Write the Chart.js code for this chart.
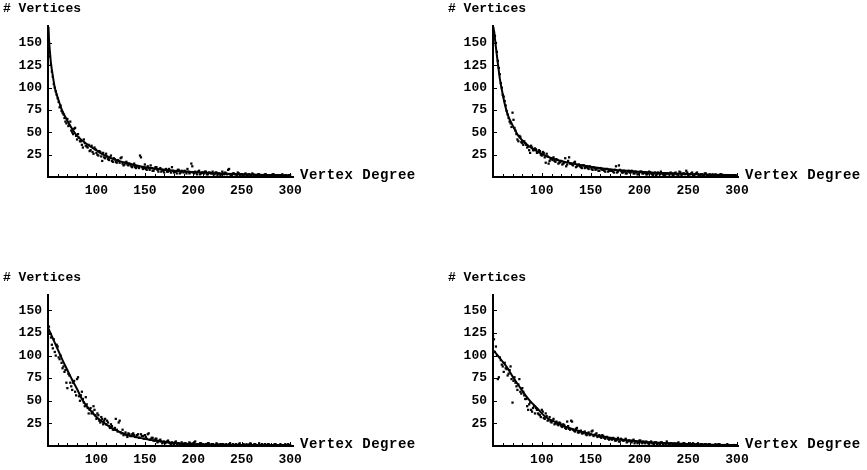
<!DOCTYPE html>
<html>
<head>
<meta charset="utf-8">
<style>
  html, body { margin: 0; padding: 0; background: #fff; }
  #wrap { position: relative; width: 867px; height: 470px; overflow: hidden; }
  canvas { position: absolute; }
</style>
</head>
<body>
<div id="wrap">
  <canvas id="c1" width="433" height="210" style="left:0px;top:0px"></canvas>
  <canvas id="c2" width="422" height="210" style="left:445px;top:0px"></canvas>
  <canvas id="c3" width="433" height="201" style="left:0px;top:269px"></canvas>
  <canvas id="c4" width="422" height="201" style="left:445px;top:269px"></canvas>
</div>
<script src="https://cdn.jsdelivr.net/npm/chart.js@4.4.3/dist/chart.umd.min.js"></script>
<script>
// vertex degree (x): even and odd degrees
const degrees = [50,52,54,56,58,60,62,64,66,68, 70,72,74,76,78,80,82,84,86,88,
  90,92,94,96,98,100,102,104,106,108, 110,112,114,116,118,120,122,124,126,128,
  130,132,134,136,138,140,142,144,146,148, 150,152,154,156,158,160,162,164,166,168,
  170,172,174,176,178,180,182,184,186,188, 190,192,194,196,198,200,202,204,206,208,
  210,212,214,216,218,220,222,224,226,228, 230,232,234,236,238,240,242,244,246,248,
  250,252,254,256,258,260,262,264,266,268, 270,272,274,276,278,280,282,284,286,288,
  290,292,294,296,298,300];
const oddDegrees = [51,53,55,57,59,61,63,65,67,69, 71,73,75,77,79,81,83,85,87,89,
  91,93,95,97,99,101,103,105,107,109, 111,113,115,117,119,121,123,125,127,129,
  131,133,135,137,139,141,143,145,147,149, 151,153,155,157,159,161,163,165,167,169,
  171,173,175,177,179,181,183,185,187,189, 191,193,195,197,199,201,203,205,207,209,
  211,213,215,217,219,221,223,225,227,229, 231,233,235,237,239,241,243,245,247,249,
  251,253,255,257,259,261,263,265,267,269, 271,273,275,277,279,281,283,285,287,289,
  291,293,295,297,299];

// number of vertices with that degree, per panel (even / odd degrees)
const countsA = [160,135,118,104,96,88,78,74,70,62, 65,58,52,48,55,42,44,40,33,38,
  34,36,30,28,33,27,24,28,18,22, 26,20,22,18,21,17,19,16,22,13,
  16,14,15,12,13,11,12,10,22,9, 14,8,10,13,7,9,11,6,10,8,
  5,9,6,7,11,5,6,8,4,7, 5,6,9,4,15,5,6,3,7,4,
  5,6,3,5,4,6,3,5,4,2, 6,3,4,8,3,2,4,3,5,2,
  3,2,4,1,3,2,3,1,2,3, 2,1,3,2,1,2,3,1,2,2,
  1,3,1,2,1,2];
const countsAOdd = [150,126,112,100,92,84,80,72,66,60, 57,62,50,54,46,48,40,36,42,35,
  33,29,35,26,31,25,29,23,27,21, 23,19,24,17,20,16,18,21,15,14,
  17,13,14,11,15,10,12,24,11,10, 9,12,8,10,7,11,8,9,6,7,
  8,6,9,5,7,6,4,8,5,6, 7,4,6,5,12,4,5,6,3,5,
  4,6,3,5,4,3,5,2,4,3, 4,5,3,9,2,4,3,2,4,3,
  2,3,1,3,2,4,1,2,3,2, 1,2,3,1,2,1,3,2,1,2,
  2,1,2,1,2];
const countsB = [168,158,140,122,105,92,85,74,66,60, 72,55,48,40,45,38,40,36,34,27,
  33,30,31,28,29,24,27,16,23,18, 21,22,17,19,16,18,15,21,14,22,
  15,13,17,12,14,11,13,10,12,9, 11,8,10,9,7,10,8,7,9,6,
  8,7,5,12,6,8,5,7,4,6, 5,7,4,6,3,5,6,4,5,3,
  6,4,2,5,3,4,6,3,2,4, 3,5,2,4,3,2,5,3,4,7,
  2,3,5,2,4,3,1,3,2,4, 1,3,2,1,3,2,1,3,2,1,
  2,1,2,1,2,1];
const countsBOdd = [162,150,130,115,100,90,80,70,62,56, 64,52,42,46,39,36,38,33,30,35,
  30,32,27,30,25,28,22,26,15,20, 19,18,20,15,17,14,16,12,18,15,
  14,16,11,13,12,10,13,11,10,12, 9,11,8,10,7,9,8,6,9,7,
  7,6,8,5,13,7,5,6,4,7, 5,6,4,5,3,6,4,5,3,4,
  5,3,4,2,5,3,4,2,3,4, 3,4,2,5,3,6,2,4,3,5,
  3,4,2,3,5,2,3,1,4,2, 2,1,3,2,1,2,3,1,2,1,
  1,2,1,2,1];
const countsC = [128,124,112,118,100,110,96,92,88,84, 64,78,66,70,60,74,55,56,52,44,
  46,36,42,38,40,30,34,26,30,28, 24,26,20,22,18,30,16,28,14,12,
  15,10,13,11,14,10,12,9,13,11, 12,8,14,7,9,6,8,5,7,3,
  5,4,6,3,4,2,5,3,2,4, 1,3,2,4,1,3,5,2,1,3,
  2,1,2,3,1,2,1,3,1,2, 1,0,2,1,3,1,0,2,1,3,
  1,2,0,1,2,1,0,2,1,3, 1,0,2,1,2,0,1,2,1,0,
  2,1,0,1,2,1];
const countsCOdd = [132,120,108,104,112,98,100,86,82,70, 80,70,62,72,56,76,50,60,48,54,
  42,40,36,44,34,36,28,32,24,30, 28,22,24,18,20,18,26,15,18,13,
  12,14,11,13,12,10,13,9,11,8, 10,13,7,9,6,8,4,6,5,4,
  3,5,4,2,3,4,2,3,1,2, 3,2,1,3,2,4,1,2,3,1,
  1,2,3,1,2,0,1,2,1,2, 2,1,0,2,1,2,1,0,2,1,
  1,0,2,1,3,1,2,1,0,1, 2,1,0,2,1,1,0,2,1,1,
  0,1,2,0,1];
const countsD = [122,104,100,76,95,88,92,85,80,88, 48,76,66,68,60,64,56,52,40,48,
  38,44,42,36,34,40,31,36,28,32, 26,30,25,24,26,22,24,20,27,19,
  28,18,16,20,15,17,14,16,12,15, 13,17,12,14,11,10,12,9,10,8,
  9,7,8,6,9,5,7,6,8,5, 6,4,7,5,3,6,4,5,3,4,
  2,5,3,4,2,3,4,2,3,5, 2,3,1,3,2,4,1,2,3,1,
  2,3,1,2,1,3,1,2,1,2, 1,2,1,0,2,1,2,1,0,1,
  2,1,0,1,1,1];
const countsDOdd = [118,110,74,98,90,82,86,78,84,74, 72,70,62,74,58,60,52,44,46,40,
  42,36,40,35,32,38,30,33,29,27, 28,24,27,23,25,21,23,19,22,18,
  27,17,19,15,16,14,15,13,14,12, 16,11,13,10,12,9,11,8,10,7,
  8,9,6,7,5,8,6,7,4,6, 5,6,3,5,4,6,3,4,5,3,
  4,3,2,4,3,2,4,3,2,3, 2,3,2,1,3,2,1,3,2,2,
  1,2,3,1,2,1,2,1,2,1, 2,1,1,0,1,2,1,0,1,1,
  1,0,1,1,0];

// fitted curves
const fitDegA = [50.5,51,52,53,55,57,60,64,70,76,80,90,100,107,120,130,145,160,180,200,225,250,275,300];
const fitCntA = [168,155,140,128,113,100,89,76,63,52,46,37,30,25,19,16,12,9.5,7,5.5,4,3,2.3,1.8];
const fitDegB = [50.3,51.5,53,55,57,59,62,65,70,76,85,98,110,132,150,166,200,225,250,275,300];
const fitCntB = [168,160,145,127,110,98,82,70,58,46,36,27,21,15,11.5,9,6,4.5,3.3,2.5,2];
const fitDegC = [50,55,60,65,70,75,80,85,90,95,100,110,120,130,145,160,175,200,225,250,275,300];
const fitCntC = [131,119,107,95,84,73,63,52,44,38,32,24,17.5,13,9,6,4,2.2,1.5,1,0.7,0.5];
const fitDegD = [50,55,60,65,70,75,80,87,95,104,115,125,140,150,175,200,225,250,275,300];
const fitCntD = [106,100,93,86,77,69,61,51,42,32,26,21,16,13,8,5,3.3,2.2,1.5,1];

const xTicks = [100,150,200,250,300];
const xMinor = [60,70,80,90,110,120,130,140,160,170,180,190,210,220,230,240,260,270,280,290];
const yTicks = [25,50,75,100,125,150];
const xTitle = 'Vertex Degree';
const yTitle = '# Vertices';

const FONT = '"Liberation Mono", "Courier New", monospace';

// Mathematica style: small inward ticks plus axis captions at the axis ends
const axisDecor = {
  id: 'axisDecor',
  afterDraw(chart) {
    const { ctx, chartArea: a, scales: { x, y } } = chart;
    ctx.save();
    ctx.strokeStyle = '#000';
    ctx.lineWidth = 1;
    ctx.beginPath();
    xMinor.forEach(v => {
      const px = Math.round(x.getPixelForValue(v)) + 0.5;
      ctx.moveTo(px, a.bottom); ctx.lineTo(px, a.bottom - 3);
    });
    xTicks.forEach(v => {
      const px = Math.round(x.getPixelForValue(v)) + 0.5;
      ctx.moveTo(px, a.bottom); ctx.lineTo(px, a.bottom - 4);
    });
    yTicks.forEach(v => {
      const py = Math.round(y.getPixelForValue(v)) + 0.5;
      ctx.moveTo(a.left, py); ctx.lineTo(a.left + 4, py);
    });
    ctx.stroke();
    ctx.fillStyle = '#000';
    ctx.textAlign = 'left';
    ctx.textBaseline = 'middle';
    ctx.font = 'bold 13px ' + FONT;
    ctx.fillText(yTitle, a.left - 45, a.top - 17);
    ctx.font = 'bold 14px ' + FONT;
    ctx.letterSpacing = '0.5px';
    ctx.fillText(xTitle, a.right + 7, a.bottom - 2);
    ctx.restore();
  }
};

function makePanel(id, even, odd, fitDeg, fitCnt, xMax, yMax, padRight, xHeight) {
  const pts = degrees.map((d, i) => ({ x: d, y: even[i] }))
    .concat(oddDegrees.map((d, i) => ({ x: d, y: odd[i] })));
  const fit = fitDeg.map((d, i) => ({ x: d, y: fitCnt[i] }));
  const tickFont = { family: FONT, size: 13, weight: 'bold' };
  new Chart(document.getElementById(id), {
    type: 'scatter',
    data: {
      datasets: [
        { data: pts, pointStyle: 'rect', pointRadius: 1.6, backgroundColor: '#000', borderWidth: 0, showLine: false },
        { data: fit, showLine: true, pointRadius: 0, borderColor: '#000', borderWidth: 2,
          cubicInterpolationMode: 'monotone', fill: false }
      ]
    },
    options: {
      responsive: false,
      animation: false,
      layout: { padding: { top: 26, right: padRight, left: 0, bottom: 0 } },
      plugins: { legend: { display: false }, tooltip: { enabled: false } },
      scales: {
        x: {
          type: 'linear', min: 50, max: xMax,
          afterBuildTicks: ax => { ax.ticks = xTicks.map(v => ({ value: v })); },
          afterFit: ax => { ax.height = xHeight; },
          ticks: { color: '#000', font: tickFont, padding: 6, maxRotation: 0, autoSkip: false },
          grid: { display: false, drawTicks: false },
          border: { display: true, color: '#000', width: 2 }
        },
        y: {
          type: 'linear', min: 0, max: yMax,
          afterBuildTicks: ax => { ax.ticks = yTicks.map(v => ({ value: v })); },
          afterFit: ax => { ax.width = 48; },
          ticks: { color: '#000', font: tickFont, padding: 6 },
          grid: { display: false, drawTicks: false },
          border: { display: true, color: '#000', width: 2 }
        }
      }
    },
    plugins: [axisDecor]
  });
}

makePanel('c1', countsA, countsAOdd, fitDegA, fitCntA, 303, 169, 140, 33);
makePanel('c2', countsB, countsBOdd, fitDegB, fitCntB, 301, 169, 129, 33);
makePanel('c3', countsC, countsCOdd, fitDegC, fitCntC, 303, 167, 140, 24);
makePanel('c4', countsD, countsDOdd, fitDegD, fitCntD, 301, 167, 129, 24);
</script>
</body>
</html>
